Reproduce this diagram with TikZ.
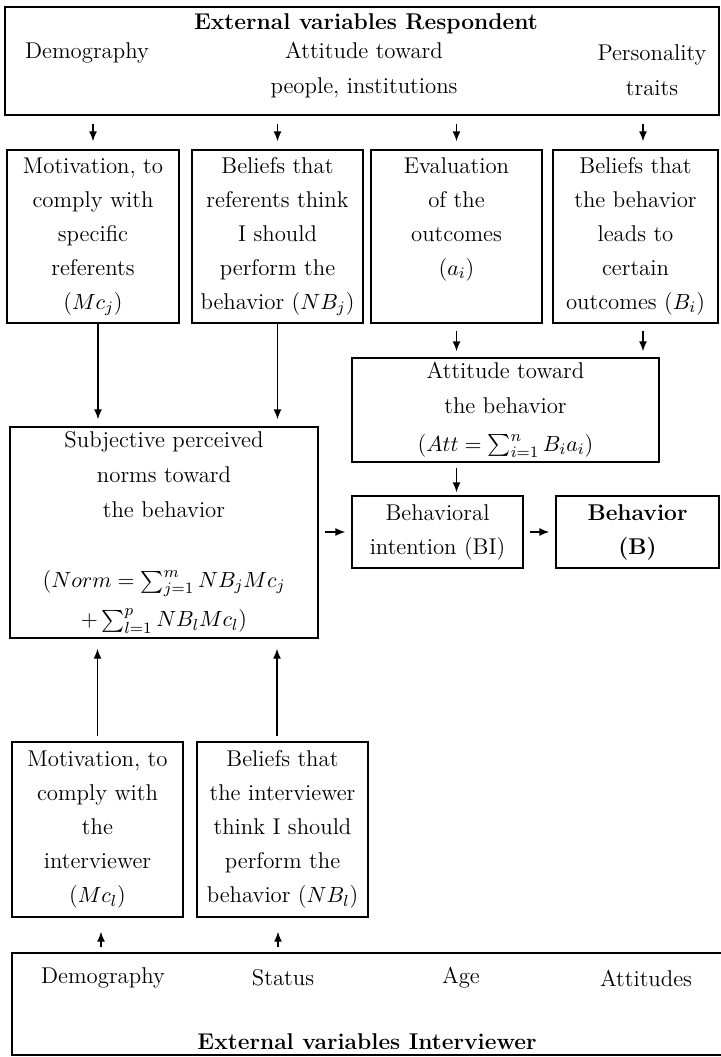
\documentclass[tikz,border=0pt]{standalone}
\usepackage{amsmath}
\usetikzlibrary{arrows.meta,positioning,calc}

\begin{document}
\begin{tikzpicture}[x=0.5pt,y=-0.5pt,
   font=\fontsize{11.4}{17}\selectfont,
   box/.style={draw,line width=0.7pt,align=center,inner sep=0pt},
   lbl/.style={inner sep=0pt,align=center},
   ttl/.style={inner sep=0pt,font=\fontsize{11.4}{17}\selectfont\bfseries},
   arr/.style={-{Latex[length=5pt,width=4pt]},line width=0.7pt,shorten <=3pt,shorten >=3pt}]
  \clip (0,0) rectangle (721,1057);

  % respondent variables
  \node[box,minimum width=357pt,minimum height=54pt] (resp) at (362,61) {};
  \node[ttl] (resptitle) at (366,24) {External variables Respondent};
  \node[lbl] (respdemo) at (87,53) {Demography};
  \node[lbl,font=\fontsize{11.4}{17.5}\selectfont] (respatt) at (364,70.5) {Attitude toward\\people, institutions};
  \node[lbl,font=\fontsize{11.4}{17.5}\selectfont] (resppers) at (652,70.5) {Personality\\traits};

  \node[box,minimum width=86pt,minimum height=86.5pt] (motj) at (93,236.5)
       {Motivation, to\\comply with\\specific\\referents\\($Mc_j$)};
  \node[box,minimum width=85.5pt,minimum height=86.5pt] (belj) at (277.5,236.5)
       {Beliefs that\\referents think\\I should\\perform the\\behavior ($NB_j$)};
  \node[box,minimum width=85.5pt,minimum height=86.5pt] (evalo) at (456.5,236.5)
       {Evaluation\\of the\\outcomes\\($a_i$)\\\vphantom{(}};
  \node[box,minimum width=82.5pt,minimum height=86.5pt] (belo) at (635.5,236.5)
       {Beliefs that\\the behavior\\leads to\\certain\\outcomes ($B_i$)};

  \node[box,minimum width=153.5pt,minimum height=52pt,font=\fontsize{11.4}{17.5}\selectfont] (att) at (505.5,410)
       {Attitude toward\\the behavior\\[1.5pt]($Att=\sum_{i=1}^{n} B_ia_i$)};
  \node[box,minimum width=154pt,minimum height=105.5pt,font=\fontsize{11.4}{17.5}\selectfont] (subj) at (164,532.5)
       {Subjective perceived\\norms toward\\the behavior\\[17.5pt]($Norm=\sum_{j=1}^{m} NB_jMc_j$\\[2pt]$+\sum_{l=1}^{p} NB_lMc_l$)};
  \node[box,minimum width=85.5pt,minimum height=36pt] (bi) at (437.5,532) {Behavioral\\intention (BI)};
  \node[box,minimum width=81.5pt,minimum height=36pt,font=\fontsize{11.4}{17}\selectfont\bfseries] (beh) at (637.5,532) {Behavior\\(B)};

  \node[box,minimum width=85.5pt,minimum height=87.5pt] (motl) at (97.5,829.5)
       {Motivation, to\\comply with\\the\\interviewer\\($Mc_l$)};
  \node[box,minimum width=85.5pt,minimum height=87.5pt] (bell) at (282.5,829.5)
       {Beliefs that\\the interviewer\\think I should\\perform the\\behavior ($NB_l$)};

  % interviewer variables
  \node[box,minimum width=361.5pt,minimum height=51pt] (intv) at (373.5,1004) {};
  \node[lbl] (intvdemo) at (103,978) {Demography};
  \node[lbl] (intvstat) at (283,978) {Status};
  \node[lbl] (intvage) at (461,978) {Age};
  \node[lbl] (intvatt) at (646,978) {Attitudes};
  \node[ttl] (intvtitle) at (367,1042) {External variables Interviewer};

  \draw[arr,shorten <=4pt,shorten >=4pt] (motj.north |- resp.south) -- (motj.north);
  \draw[arr,shorten <=4pt,shorten >=4pt] (belj.north |- resp.south) -- (belj.north);
  \draw[arr,shorten <=4pt,shorten >=4pt] (evalo.north |- resp.south) -- (evalo.north);
  \draw[arr,shorten <=4pt,shorten >=4pt] ($(belo.north |- resp.south)+(3.75pt,0)$) -- ($(belo.north)+(3.75pt,0)$);

  \draw[arr,shorten <=0pt,shorten >=3.5pt] ($(motj.south)+(2.5pt,0)$) -- ($(motj.south |- subj.north)+(2.5pt,0)$);
  \draw[arr,shorten <=0pt,shorten >=3.5pt] (belj.south) -- (belj.south |- subj.north);
  \draw[arr,shorten <=3.5pt] (evalo.south) -- (evalo.south |- att.north);
  \draw[arr,shorten <=3.5pt] ($(belo.south)+(3.75pt,0)$) -- ($(belo.south |- att.north)+(3.75pt,0)$);
  \draw[arr,shorten <=2.5pt,shorten >=1.5pt] (evalo.south |- att.south) -- (evalo.south |- bi.north);
  \draw[arr] (subj.east |- bi.west) -- (bi.west);
  \draw[arr] (bi.east) -- (beh.west);

  \draw[arr,shorten <=2.5pt,shorten >=5pt] (motl.north) -- (motl.north |- subj.south);
  \draw[arr,shorten <=2.5pt,shorten >=5pt] ($(bell.north)+(-2.75pt,0)$) -- ($(bell.north |- subj.south)+(-2.75pt,0)$);
  \draw[arr,shorten <=2.5pt,shorten >=7pt] ($(motl.south |- intv.north)+(1.75pt,0)$) -- ($(motl.south)+(1.75pt,0)$);
  \draw[arr,shorten <=2.5pt,shorten >=7pt] ($(bell.south |- intv.north)+(-2.25pt,0)$) -- ($(bell.south)+(-2.25pt,0)$);
\end{tikzpicture}
\end{document}
